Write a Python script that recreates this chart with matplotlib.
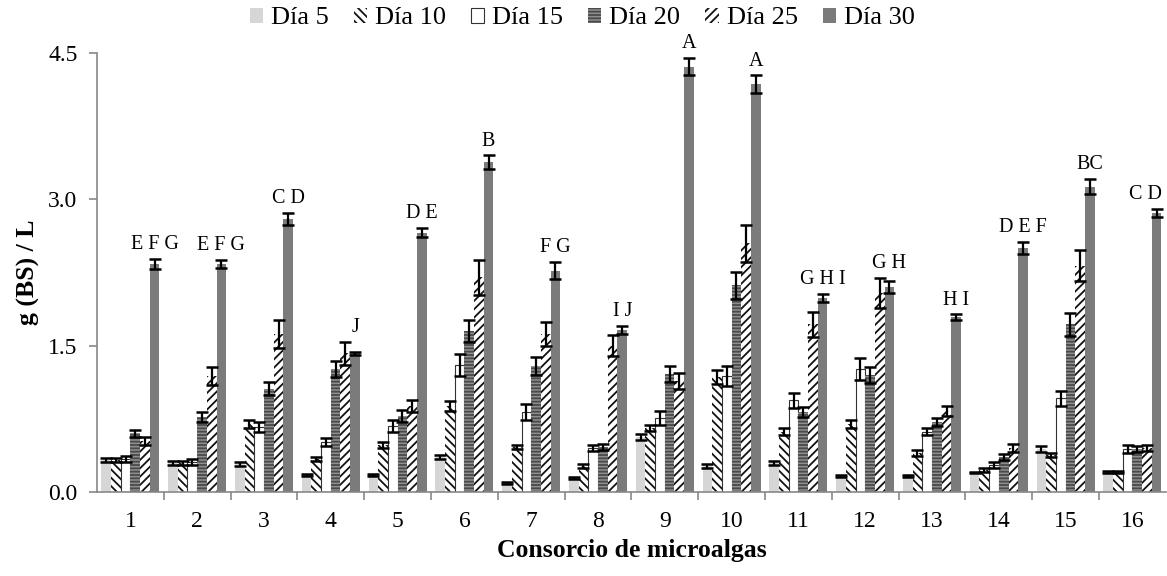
import matplotlib.pyplot as plt
import numpy as np
from matplotlib.patches import Patch

plt.rcParams['font.family'] = 'serif'
plt.rcParams['font.serif'] = ['Liberation Serif', 'DejaVu Serif']
plt.rcParams['hatch.linewidth'] = 1.3

consorcios = [str(i) for i in range(1, 17)]
dias = ['Día 5', 'Día 10', 'Día 15', 'Día 20', 'Día 25', 'Día 30']

dia5 = [0.33, 0.30, 0.29, 0.17, 0.17, 0.36, 0.09, 0.14, 0.56, 0.27, 0.30, 0.16, 0.16, 0.20, 0.44, 0.21]
err5 = [0.02, 0.02, 0.02, 0.01, 0.01, 0.02, 0.01, 0.01, 0.03, 0.02, 0.02, 0.01, 0.01, 0.01, 0.03, 0.01]
dia10 = [0.33, 0.30, 0.70, 0.34, 0.48, 0.88, 0.46, 0.27, 0.66, 1.18, 0.62, 0.70, 0.40, 0.23, 0.38, 0.21]
err10 = [0.02, 0.02, 0.04, 0.02, 0.03, 0.05, 0.02, 0.02, 0.03, 0.07, 0.04, 0.04, 0.03, 0.02, 0.02, 0.01]
dia15 = [0.34, 0.31, 0.67, 0.51, 0.68, 1.30, 0.82, 0.45, 0.76, 1.19, 0.94, 1.26, 0.62, 0.28, 0.96, 0.44]
err15 = [0.03, 0.03, 0.05, 0.04, 0.06, 0.11, 0.08, 0.03, 0.07, 0.10, 0.08, 0.11, 0.04, 0.03, 0.08, 0.04]
dia20 = [0.60, 0.77, 1.06, 1.26, 0.78, 1.65, 1.29, 0.46, 1.21, 2.12, 0.82, 1.20, 0.72, 0.36, 1.72, 0.44]
err20 = [0.04, 0.05, 0.07, 0.08, 0.06, 0.11, 0.09, 0.03, 0.08, 0.14, 0.05, 0.08, 0.04, 0.03, 0.12, 0.03]
dia25 = [0.52, 1.19, 1.62, 1.42, 0.88, 2.20, 1.62, 1.50, 1.14, 2.55, 1.72, 2.04, 0.83, 0.45, 2.32, 0.45]
err25 = [0.04, 0.09, 0.14, 0.12, 0.06, 0.18, 0.12, 0.11, 0.08, 0.19, 0.13, 0.15, 0.05, 0.04, 0.16, 0.03]
dia30 = [2.34, 2.34, 2.80, 1.42, 2.66, 3.38, 2.27, 1.66, 4.36, 4.18, 1.99, 2.10, 1.79, 2.50, 3.13, 2.86]
err30 = [0.05, 0.04, 0.06, 0.02, 0.05, 0.07, 0.09, 0.04, 0.09, 0.09, 0.04, 0.06, 0.03, 0.06, 0.08, 0.04]

letras = ['E F G', 'E F G', 'C D', 'J', 'D E', 'B', 'F G', 'I J',
          'A', 'A', 'G H I', 'G H', 'H I', 'D E F', 'BC', 'C D']

valores = [dia5, dia10, dia15, dia20, dia25, dia30]
errores = [err5, err10, err15, err20, err25, err30]

# (facecolor, hatch, edgecolor, linewidth) per day
estilos = [
    ('#d6d6d6', '', '#d6d6d6', 0),
    ('white', '\\\\\\\\', '#111111', 0),
    ('white', '', '#333333', 0.8),
    ('#8f8f8f', '-----', '#4a4a4a', 0),
    ('white', '////', '#111111', 0),
    ('#7b7b7b', '', '#7b7b7b', 0),
]

fig = plt.figure(figsize=(11.67, 5.76), dpi=100)
ax = fig.add_axes([0.0831, 0.1458, 0.9159, 0.7622])

x = np.arange(len(consorcios))
w = 0.145
for i, (vals, errs, st) in enumerate(zip(valores, errores, estilos)):
    fc, hatch, ec, lw = st
    pos = x + (i - 2.5) * w
    ax.bar(pos, vals, width=w, color=fc, hatch=hatch, edgecolor=ec,
           linewidth=lw, zorder=2)
    ax.errorbar(pos, vals, yerr=errs, fmt='none', ecolor='black',
                elinewidth=1.6, capsize=4, capthick=1.8, zorder=3)

# significance letters over the tallest error bar of each group
n = len(consorcios)
for k in range(n):
    top = max(v[k] + e[k] for v, e in zip(valores, errores))
    if k == n - 1:
        # last label kept inside the figure
        ax.text(x[k] + 3 * w, top + 0.05, letras[k], ha='right', va='bottom',
                fontsize=14.5, clip_on=False)
    else:
        ax.text(x[k] + 2.5 * w, top + 0.05, letras[k], ha='center', va='bottom',
                fontsize=14.5, clip_on=False)

ax.set_xlim(-0.5, n - 0.5)
ax.set_ylim(0, 4.5)
ax.set_yticks([0, 1.5, 3.0, 4.5])
ax.set_yticklabels(['0.0', '1.5', '3.0', '4.5'])
ax.set_xticks(x)
ax.set_xticklabels(consorcios)
ax.set_xticks(np.arange(0.5, n - 0.5), minor=True)
ax.tick_params(axis='x', which='major', length=0, pad=14, labelsize=17)
ax.tick_params(axis='x', which='minor', length=6, color='#888888', width=1.2)
ax.tick_params(axis='y', length=6, color='#888888', width=1.2, labelsize=17, pad=8)

for s in ['top', 'right']:
    ax.spines[s].set_visible(False)
for s in ['left', 'bottom']:
    ax.spines[s].set_color('#888888')
    ax.spines[s].set_linewidth(1.2)

ax.set_xlabel('Consorcio de microalgas', fontsize=18.5, fontweight='bold', labelpad=5)
ax.set_ylabel('g (BS) / L', fontsize=18.5, fontweight='bold', labelpad=6)

handles = [Patch(facecolor=st[0], hatch=st[1], edgecolor=st[2], linewidth=st[3])
           for st in estilos]
fig.legend(handles, dias, loc='center', bbox_to_anchor=(0.499, 0.968), ncol=6,
           frameon=False, fontsize=19, handlelength=0.5, handleheight=0.5,
           handletextpad=0.3, columnspacing=0.95)

fig.savefig('out.png', dpi=100)
